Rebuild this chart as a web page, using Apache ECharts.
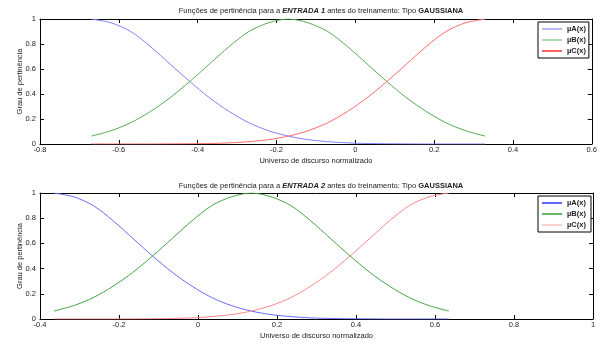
<!DOCTYPE html>
<html>
<head>
<meta charset="utf-8">
<script src="https://cdn.jsdelivr.net/npm/echarts@6/dist/echarts.min.js"></script>
<style>
html,body{margin:0;padding:0;background:#fff;}
#c{width:600px;height:347px;}
</style>
</head>
<body>
<div id="c"></div>
<script>
// ---- data ----
var xTop = [-0.67,-0.62,-0.57,-0.52,-0.47,-0.42,-0.37,-0.32,-0.27,-0.22,-0.17,-0.12,-0.07,-0.02,0.03,0.08,0.13,0.18,0.23,0.28,0.33];
var aTop = [1,0.97,0.90,0.78,0.64,0.50,0.37,0.26,0.17,0.106,0.063,0.035,0.019,0.009,0.004,0.002,0.001,0,0,0,0];
var bTop = [0.063,0.106,0.17,0.26,0.37,0.50,0.64,0.78,0.90,0.97,1,0.97,0.90,0.78,0.64,0.50,0.37,0.26,0.17,0.106,0.063];
var cTop = [0,0,0,0,0.001,0.002,0.004,0.009,0.019,0.035,0.063,0.106,0.17,0.26,0.37,0.50,0.64,0.78,0.90,0.97,1];

var xBot = [-0.365,-0.315,-0.265,-0.215,-0.165,-0.115,-0.065,-0.015,0.035,0.085,0.135,0.185,0.235,0.285,0.335,0.385,0.435,0.485,0.535,0.585,0.635];
var aBot = [1,0.97,0.90,0.78,0.64,0.50,0.37,0.26,0.17,0.106,0.063,0.035,0.019,0.009,0.004,0.002,0.001,0,0,0,0];
var bBot = [0.063,0.106,0.17,0.26,0.37,0.50,0.64,0.78,0.90,0.97,1,0.97,0.90,0.78,0.64,0.50,0.37,0.26,0.17,0.106,0.063];
var cBot = [0,0,0,0,0.001,0.002,0.004,0.009,0.019,0.035,0.063,0.106,0.17,0.26,0.37,0.50,0.64,0.78,0.90,0.97,1];

var namesTop = ['\u00b5A(x)','\u00b5B(x)','\u00b5C(x)'];
var namesBot = ['\u00b5A(x) ','\u00b5B(x) ','\u00b5C(x) '];
var xRangeTop = [-0.8, 0.6];
var xRangeBot = [-0.4, 1];
var titleTop = ['Fun\u00e7\u00f5es de pertin\u00eancia para a ', 'ENTRADA 1', ' antes do treinamento: Tipo ', 'GAUSSIANA'];
var titleBot = ['Fun\u00e7\u00f5es de pertin\u00eancia para a ', 'ENTRADA 2', ' antes do treinamento: Tipo ', 'GAUSSIANA'];
var xName = 'Universo de discurso normalizado';
var yName = 'Grau de pertin\u00eancia';

function pairs(xs, ys){ return xs.map(function(x,i){ return [x, ys[i]]; }); }

var FONT = 'Liberation Sans, Arial, sans-serif';
var FS = 7.5;
var TXT = '#222';
var fmt = function(v){ var r = Math.round(v*10)/10; return String(r); };

function xAxes(gi, rng){
  return [{
    type:'value', gridIndex:gi, min:rng[0], max:rng[1], interval:0.2,
    name: xName, nameLocation:'middle', nameGap:13, nameMoveOverlap:false,
    nameTextStyle:{fontSize:FS, fontFamily:FONT, color:TXT},
    axisLine:{onZero:false, lineStyle:{color:'#000', width:1}},
    axisTick:{inside:true, length:4, lineStyle:{color:'#000'}},
    axisLabel:{fontSize:FS, fontFamily:FONT, color:TXT, margin:2, formatter:fmt},
    splitLine:{show:false}
  },{
    type:'value', gridIndex:gi, position:'top', min:rng[0], max:rng[1], interval:0.2,
    axisLine:{onZero:false, lineStyle:{color:'#000', width:1}},
    axisTick:{inside:true, length:4, lineStyle:{color:'#000'}},
    axisLabel:{show:false}, splitLine:{show:false}
  }];
}
function yAxes(gi){
  return [{
    type:'value', gridIndex:gi, min:0, max:1, interval:0.2,
    name: yName, nameLocation:'middle', nameGap:16, nameMoveOverlap:false,
    nameTextStyle:{fontSize:FS, fontFamily:FONT, color:TXT},
    axisLine:{onZero:false, lineStyle:{color:'#000', width:1}},
    axisTick:{inside:true, length:4, lineStyle:{color:'#000'}},
    axisLabel:{fontSize:FS, fontFamily:FONT, color:TXT, margin:4, formatter:fmt},
    splitLine:{show:false}
  },{
    type:'value', gridIndex:gi, position:'right', min:0, max:1, interval:0.2,
    axisLine:{onZero:false, lineStyle:{color:'#000', width:1}},
    axisTick:{inside:true, length:4, lineStyle:{color:'#000'}},
    axisLabel:{show:false}, splitLine:{show:false}
  }];
}
function titleRich(parts){
  return '{r|'+parts[0]+'}{bi|'+parts[1]+'}{r|'+parts[2]+'}{b|'+parts[3]+'}';
}
var rich = {
  r:{fontSize:FS, fontFamily:FONT, color:TXT, fontWeight:'normal'},
  bi:{fontSize:FS, fontFamily:FONT, color:TXT, fontWeight:'bold', fontStyle:'italic'},
  b:{fontSize:FS, fontFamily:FONT, color:TXT, fontWeight:'bold'}
};
function series(name, xi, yi, xs, ys, color){
  return {type:'line', name:name, xAxisIndex:xi, yAxisIndex:yi, data:pairs(xs, ys),
    smooth:0.3, symbol:'none', lineStyle:{color:color, width:1}, itemStyle:{color:color}, z:3};
}
function legend(names, colors, top){
  return {
    orient:'vertical', left:538, top:top, itemGap:3, itemWidth:20, itemHeight:1.5,
    icon:'rect', padding:[3,3,3,4], borderColor:'#000', borderWidth:1, backgroundColor:'#fff',
    textStyle:{fontSize:FS, fontFamily:FONT, color:TXT, fontWeight:'bold'},
    data: names.map(function(n,i){ return {name:n, itemStyle:{color:colors[i]}}; }),
    selectedMode:false
  };
}

var topColors = ['#8080ff','#55aa55','#ff6a6a'];
var topLegColors = ['#a0a0ff','#8fcf8f','#ff3030'];
var botColors = ['#6a6aff','#45a545','#ff8888'];
var botLegColors = ['#3030ff','#30a030','#ffc0c0'];

var option = {
  animation:false,
  backgroundColor:'#fff',
  title:[
    {text:titleRich(titleTop), left:316, top:2, textAlign:'center', textStyle:{fontWeight:'normal', fontSize:FS, rich:rich}},
    {text:titleRich(titleBot), left:316, top:177, textAlign:'center', textStyle:{fontWeight:'normal', fontSize:FS, rich:rich}}
  ],
  grid:[
    {left:40, right:7, top:19, height:125},
    {left:40, right:7, top:193, height:126}
  ],
  legend:[ legend(namesTop, topLegColors, 22), legend(namesBot, botLegColors, 196) ],
  xAxis: xAxes(0, xRangeTop).concat(xAxes(1, xRangeBot)),
  yAxis: yAxes(0).concat(yAxes(1)),
  series:[
    series(namesTop[0],0,0,xTop,aTop,topColors[0]),
    series(namesTop[1],0,0,xTop,bTop,topColors[1]),
    series(namesTop[2],0,0,xTop,cTop,topColors[2]),
    series(namesBot[0],2,2,xBot,aBot,botColors[0]),
    series(namesBot[1],2,2,xBot,bBot,botColors[1]),
    series(namesBot[2],2,2,xBot,cBot,botColors[2])
  ]
};
var chart = echarts.init(document.getElementById('c'), null, {renderer:'canvas'});
chart.setOption(option);
</script>
</body>
</html>
